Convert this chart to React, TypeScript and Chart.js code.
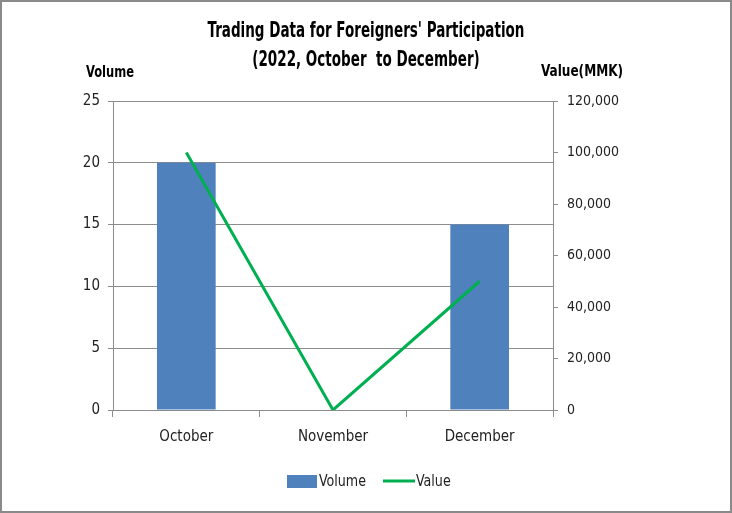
import React, { useEffect, useRef } from "react";
import { Chart, registerables } from "chart.js";

Chart.register(...registerables);

const categories = ["October", "November", "December"];
const volumeValues = [20, 0, 15];
const valueMMK = [100000, 0, 50000];
const titleLines = ["Trading Data for Foreigners' Participation", "(2022, October  to December)"];
const leftAxisTitle = "Volume";
const rightAxisTitle = "Value(MMK)";
const seriesNames = ["Volume", "Value"];

const FONT = "'DejaVu Sans Condensed', 'Liberation Sans Narrow', sans-serif";
const BAR_COLOR = "#4F81BD";
const LINE_COLOR = "#00B050";
const GRID = "#8C8C8C";
const TEXT = "#222222";

function squeezedText(ctx: any, text: string, cx: number, cy: number, sx: number, align: string) {
  ctx.save();
  ctx.translate(cx, cy);
  ctx.scale(sx, 1);
  ctx.textAlign = align;
  ctx.fillText(text, 0, 0);
  ctx.restore();
}

const overlay = {
  id: "overlay",
  afterDraw(chart: any) {
    const ctx = chart.ctx;
    const area = chart.chartArea;
    ctx.save();
    ctx.fillStyle = "#000";
    ctx.textBaseline = "middle";
    ctx.font = `bold 21px ${FONT}`;
    squeezedText(ctx, titleLines[0], 364, 30, 0.715, "center");
    squeezedText(ctx, titleLines[1], 364, 59, 0.715, "center");
    ctx.font = `bold 16px ${FONT}`;
    squeezedText(ctx, leftAxisTitle, 108, 71, 0.8, "center");
    squeezedText(ctx, rightAxisTitle, area.right + 29, 70, 0.84, "center");
    // legend
    const ly = 479;
    ctx.fillStyle = BAR_COLOR;
    ctx.fillRect(285, ly - 6, 30, 13);
    ctx.fillStyle = TEXT;
    ctx.font = `16px ${FONT}`;
    squeezedText(ctx, seriesNames[0], 317, ly + 1, 0.88, "left");
    ctx.strokeStyle = LINE_COLOR;
    ctx.lineWidth = 3;
    ctx.beginPath();
    ctx.moveTo(381, ly);
    ctx.lineTo(413, ly);
    ctx.stroke();
    squeezedText(ctx, seriesNames[1], 414, ly + 1, 0.88, "left");
    ctx.restore();
  },
};

export default function App() {
  const ref = useRef<HTMLCanvasElement | null>(null);
  useEffect(() => {
    document.body.style.margin = "0";
    const chart = new Chart(ref.current!, {
      type: "bar",
      data: {
        labels: categories,
        datasets: [
          {
            type: "line",
            label: seriesNames[1],
            data: valueMMK,
            borderColor: LINE_COLOR,
            backgroundColor: LINE_COLOR,
            borderWidth: 3,
            pointRadius: 0,
            tension: 0,
            yAxisID: "y2",
            order: 0,
          } as any,
          {
            type: "bar",
            label: seriesNames[0],
            data: volumeValues,
            backgroundColor: BAR_COLOR,
            barPercentage: 0.4,
            categoryPercentage: 1,
            yAxisID: "y",
            order: 1,
          },
        ],
      },
      options: {
        responsive: false,
        animation: false,
        events: [],
        layout: { padding: { top: 99, left: 0, right: 0, bottom: 0 } },
        plugins: { legend: { display: false }, title: { display: false }, tooltip: { enabled: false } },
        scales: {
          x: {
            offset: true,
            grid: { offset: true, drawOnChartArea: false, color: GRID, tickLength: 7 },
            border: { color: GRID },
            ticks: { color: TEXT, font: { family: FONT, size: 15 }, padding: 11 },
            afterFit: (s: any) => { s.height = 101; },
          },
          y: {
            position: "left",
            min: 0,
            max: 25,
            ticks: { stepSize: 5, color: TEXT, font: { family: FONT, size: 15 }, padding: 8 },
            grid: { color: GRID, tickLength: 5 },
            border: { color: GRID },
            afterFit: (s: any) => { s.width = 111; },
          },
          y2: {
            position: "right",
            min: 0,
            max: 120000,
            ticks: {
              stepSize: 20000,
              color: TEXT,
              font: { family: FONT, size: 14 },
              padding: 9,
              callback: (v: any) => Number(v).toLocaleString("en-US"),
            },
            grid: { drawOnChartArea: false, color: GRID, tickLength: 5 },
            border: { color: GRID },
            afterFit: (s: any) => { s.width = 177; },
          },
        },
      },
      plugins: [overlay],
    });
    return () => chart.destroy();
  }, []);
  return (
    <div style={{ width: 732, height: 513, boxSizing: "border-box", border: "2px solid #8a8a8a", background: "#fff" }}>
      <canvas ref={ref} width={728} height={509} style={{ display: "block" }} />
    </div>
  );
}
